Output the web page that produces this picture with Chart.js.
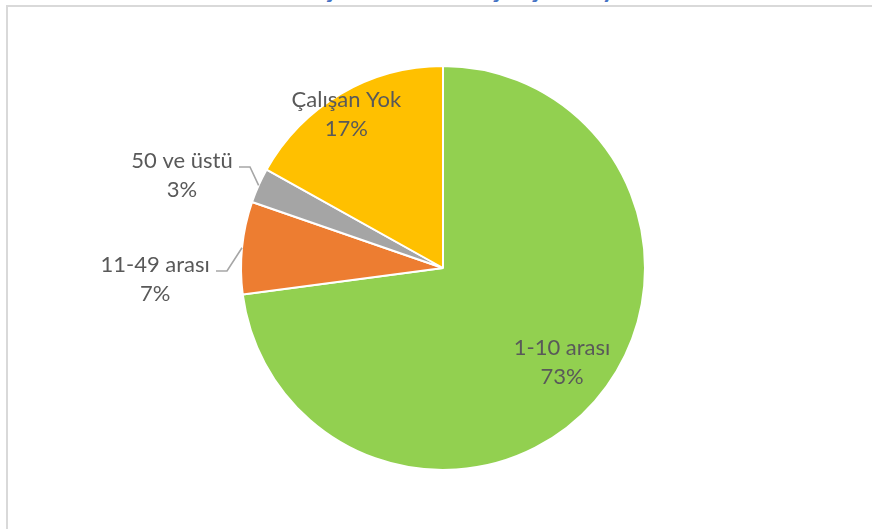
<!DOCTYPE html>
<html lang="tr">
<head>
    <meta charset="UTF-8">
    <title>Çalışan Sayısı</title>
    <script src="https://cdn.jsdelivr.net/npm/chart.js"></script>
    <style>
        body {
            margin: 0;
            width: 872px;
            height: 529px;
            overflow: hidden;
            background: #fff;
            position: relative;
            font-family: Lato, sans-serif;
        }
        #frame {
            position: absolute;
            left: 6px;
            top: 5px;
            width: 1000px;
            height: 700px;
            border: 2px solid #d9d9d9;
        }
        #title {
            position: absolute;
            top: -28px;
            left: 0;
            width: 956px;
            text-align: center;
            font: bold 26px Lato, sans-serif;
            color: #4472c4;
            white-space: nowrap;
        }
        #myChart {
            position: absolute;
            left: 0;
            top: 0;
        }
    </style>
</head>
<body>
    <div id="frame"></div>
    <div id="title">İşletmelerdeki Çalışan Sayısı</div>
    <canvas id="myChart" width="872" height="529"></canvas>

    <script>
        const categories = ['1-10 arası', '11-49 arası', '50 ve üstü', 'Çalışan Yok'];
        const shares = [72.9, 7.4, 2.8, 16.9];
        const sliceColors = ['#92d050', '#ed7d31', '#a5a5a5', '#ffc000'];

        // where each label sits, relative to its slice (radius factor, angle shift in degrees)
        const labelPlacement = [
            { k: 0.75, da: -3, outside: false },
            { k: 1.426, da: -8, outside: true },
            { k: 1.371, da: -4.6, outside: true },
            { k: 0.9, da: -1.7, outside: false }
        ];

        const pieLabels = {
            id: 'pieLabels',
            afterDatasetsDraw(chart) {
                const ctx = chart.ctx;
                const meta = chart.getDatasetMeta(0);
                const total = shares.reduce((a, b) => a + b, 0);
                ctx.save();
                ctx.font = '22px Lato, sans-serif';
                ctx.fillStyle = '#595959';
                ctx.textAlign = 'center';
                ctx.textBaseline = 'alphabetic';
                meta.data.forEach((arc, i) => {
                    const p = arc.getProps(['x', 'y', 'startAngle', 'endAngle', 'outerRadius'], true);
                    const mid = (p.startAngle + p.endAngle) / 2;
                    const place = labelPlacement[i];
                    const a = mid + place.da * Math.PI / 180;
                    const r = p.outerRadius * place.k;
                    const x = p.x + Math.cos(a) * r;
                    const y = p.y + Math.sin(a) * r;
                    const line1 = categories[i];
                    const line2 = Math.round(shares[i] / total * 100) + '%';
                    const base1 = y - 7;
                    ctx.fillText(line1, x, base1);
                    ctx.fillText(line2, x, base1 + 29);

                    if (place.outside) {
                        const right = x + ctx.measureText(line1).width / 2;
                        const ly = Math.round(base1 - 1);
                        ctx.beginPath();
                        ctx.strokeStyle = '#a6a6a6';
                        ctx.lineWidth = 1.6;
                        ctx.moveTo(Math.round(right + 6), ly);
                        ctx.lineTo(Math.round(right + 17), ly);
                        ctx.lineTo(p.x + Math.cos(mid) * p.outerRadius, p.y + Math.sin(mid) * p.outerRadius);
                        ctx.stroke();
                    }
                });
                ctx.restore();
            }
        };

        const ctx = document.getElementById('myChart').getContext('2d');
        const myChart = new Chart(ctx, {
            type: 'pie',
            data: {
                labels: categories,
                datasets: [{
                    data: shares,
                    backgroundColor: sliceColors,
                    borderColor: '#ffffff',
                    borderWidth: 2
                }]
            },
            options: {
                responsive: false,
                devicePixelRatio: 1,
                animation: false,
                layout: {
                    padding: { top: 65, bottom: 58, left: 200, right: 186 }
                },
                plugins: {
                    legend: { display: false },
                    tooltip: { enabled: false }
                }
            },
            plugins: [pieLabels]
        });
    </script>
</body>
</html>
